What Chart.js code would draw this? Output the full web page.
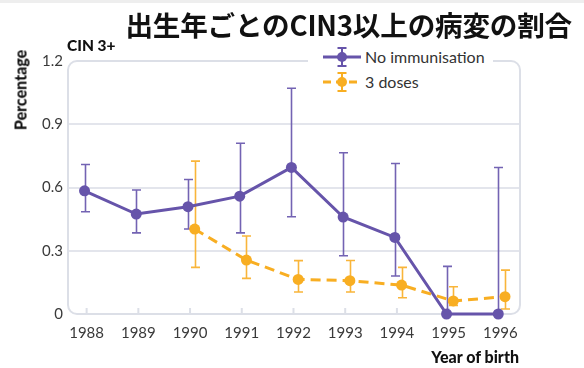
<!DOCTYPE html>
<html lang="ja">
<head>
<meta charset="UTF-8">
<title>出生年ごとのCIN3以上の病変の割合</title>
<script src="https://cdn.jsdelivr.net/npm/chart.js"></script>
<style>
    body { margin: 0; width: 584px; height: 368px; position: relative; background: #fff; overflow: hidden; font-family: Lato, "Noto Sans", sans-serif; color: #222; }
    .topbar { position: absolute; left: 0; top: 0; width: 584px; height: 3px; background: #eeeeee; }
    #chart { position: absolute; left: 0; top: 0; }
    .title { position: absolute; right: 12px; top: 9px; font: bold 27.6px "Noto Sans CJK JP", sans-serif; line-height: 30px; color: #111; white-space: nowrap; letter-spacing: -0.2px; }
    .sub { position: absolute; left: 67px; top: 36px; font: 900 15.5px Lato, sans-serif; line-height: 18px; color: #111; }
    .ylab { position: absolute; left: 20px; top: 90px; font: 900 16px Lato, sans-serif; transform: translate(-50%, -50%) rotate(-90deg); white-space: nowrap; color: #111; }
    .xlab { position: absolute; right: 65px; top: 347px; font: 900 16px Lato, sans-serif; line-height: 19px; color: #111; }
    .legend { position: absolute; left: 308px; top: 43px; width: 185px; background: #fff; padding: 1px 0 3px 0; }
    .legend div { display: flex; align-items: center; height: 25px; font-size: 16px; color: #333; }
    .legend svg { margin: 0 4px 0 15px; }
</style>
</head>
<body>
<div class="topbar"></div>
<canvas id="chart" width="584" height="368"></canvas>
<div class="title">出生年ごとのCIN3以上の病変の割合</div>
<div class="sub">CIN 3+</div>
<div class="ylab">Percentage</div>
<div class="xlab">Year of birth</div>
<div class="legend">
    <div>
        <svg width="38" height="22" viewBox="0 0 38 22">
            <line x1="0" y1="11" x2="38" y2="11" stroke="#6654aa" stroke-width="3"/>
            <path d="M19 2V20M14.5 2H23.5M14.5 20H23.5" stroke="#6654aa" stroke-width="2" fill="none"/>
            <circle cx="19" cy="11" r="5" fill="#6654aa"/>
        </svg>No immunisation
    </div>
    <div>
        <svg width="38" height="22" viewBox="0 0 38 22">
            <line x1="0" y1="11" x2="38" y2="11" stroke="#f8ae22" stroke-width="3" stroke-dasharray="8 5"/>
            <path d="M19 2V20M14.5 2H23.5M14.5 20H23.5" stroke="#f8ae22" stroke-width="2" fill="none"/>
            <circle cx="19" cy="11" r="5" fill="#f8ae22"/>
        </svg>3 doses
    </div>
</div>
<script>
    // year of birth
    const years = [1988, 1989, 1990, 1991, 1992, 1993, 1994, 1995, 1996];
    const yTicks = [0, 0.3, 0.6, 0.9, 1.2];

    // no immunisation: estimate and 95% interval
    const noImmYears = [1988, 1989, 1990, 1991, 1992, 1993, 1994, 1995, 1996];
    const noImmMean = [0.584, 0.474, 0.509, 0.559, 0.695, 0.460, 0.363, 0, 0];
    const noImmLow = [0.485, 0.385, 0.403, 0.385, 0.461, 0.276, 0.180, 0, 0];
    const noImmHigh = [0.709, 0.588, 0.638, 0.810, 1.071, 0.765, 0.714, 0.226, 0.695];

    // three doses
    const doseYears = [1990, 1991, 1992, 1993, 1994, 1995, 1996];
    const doseMean = [0.403, 0.256, 0.164, 0.158, 0.137, 0.062, 0.082];
    const doseLow = [0.221, 0.169, 0.104, 0.104, 0.077, 0.041, 0.024];
    const doseHigh = [0.725, 0.370, 0.253, 0.254, 0.221, 0.129, 0.208];

    const purple = '#6654aa';
    const orange = '#f8ae22';
    // small horizontal shift so the two series don't overlap
    const dodgeA = -0.04, dodgeB = 0.09;

    const toPoints = (xs, ys, dx) => xs.map((x, i) => ({ x: x + dx, y: ys[i] }));

    const frame = {
        id: 'frame',
        beforeDatasetsDraw(chart) {
            const { ctx, chartArea: a, scales } = chart;
            ctx.save();
            // rounded plot border
            ctx.strokeStyle = '#dcdfe7';
            ctx.lineWidth = 2;
            ctx.beginPath();
            ctx.roundRect(a.left, a.top, a.right - a.left, a.bottom - a.top, 9);
            ctx.stroke();
            // small year ticks on the bottom edge
            years.forEach(y => {
                const px = scales.x.getPixelForValue(y);
                ctx.beginPath();
                ctx.moveTo(px, a.bottom);
                ctx.lineTo(px, a.bottom - 6);
                ctx.stroke();
            });
            // error bars
            const bars = [
                [noImmYears, noImmLow, noImmHigh, dodgeA, '#7363b3'],
                [doseYears, doseLow, doseHigh, dodgeB, '#f9b53a']
            ];
            bars.forEach(([xs, lo, hi, dx, col]) => {
                ctx.strokeStyle = col;
                ctx.lineWidth = 1.6;
                xs.forEach((x, i) => {
                    const px = Math.round(scales.x.getPixelForValue(x + dx)) + 0.5;
                    const y1 = scales.y.getPixelForValue(lo[i]);
                    const y2 = scales.y.getPixelForValue(hi[i]);
                    ctx.beginPath();
                    ctx.moveTo(px, y1); ctx.lineTo(px, y2);
                    ctx.moveTo(px - 4.5, y2); ctx.lineTo(px + 4.5, y2);
                    if (lo[i] > 0) { ctx.moveTo(px - 4.5, y1); ctx.lineTo(px + 4.5, y1); }
                    ctx.stroke();
                });
            });
            ctx.restore();
        }
    };

    new Chart(document.getElementById('chart'), {
        type: 'line',
        data: {
            datasets: [
                {
                    label: '3 doses',
                    data: toPoints(doseYears, doseMean, dodgeB),
                    borderColor: orange,
                    backgroundColor: orange,
                    borderWidth: 3,
                    borderDash: [10, 6],
                    pointRadius: 5.5,
                    pointBorderWidth: 0
                },
                {
                    label: 'No immunisation',
                    data: toPoints(noImmYears, noImmMean, dodgeA),
                    borderColor: purple,
                    backgroundColor: purple,
                    borderWidth: 3,
                    pointRadius: 5.5,
                    pointBorderWidth: 0
                }
            ]
        },
        options: {
            responsive: false,
            animation: false,
            clip: false,
            layout: { padding: { top: 61, right: 64, left: 0, bottom: 0 } },
            plugins: { legend: { display: false }, tooltip: { enabled: false } },
            scales: {
                x: {
                    type: 'linear',
                    min: 1987.64,
                    max: 1996.38,
                    afterFit: s => { s.height = 54; },
                    afterBuildTicks: s => { s.ticks = years.map(v => ({ value: v })); },
                    grid: { display: false },
                    border: { display: false },
                    ticks: {
                        padding: 2,
                        color: '#3a3a3a',
                        font: { family: 'Lato', size: 15 },
                        callback: v => String(v)
                    }
                },
                y: {
                    min: 0,
                    max: 1.2,
                    afterFit: s => { s.width = 68; },
                    afterBuildTicks: s => { s.ticks = yTicks.map(v => ({ value: v })); },
                    grid: {
                        drawTicks: false,
                        lineWidth: 2,
                        color: c => (c.tick && (c.tick.value === 0 || c.tick.value === 1.2)) ? 'rgba(0,0,0,0)' : '#e3e5ec'
                    },
                    border: { display: false },
                    ticks: {
                        padding: 5,
                        color: '#3a3a3a',
                        font: { family: 'Lato', size: 15 },
                        callback: v => v === 0 ? '0' : v.toFixed(1)
                    }
                }
            }
        },
        plugins: [frame]
    });
</script>
</body>
</html>
